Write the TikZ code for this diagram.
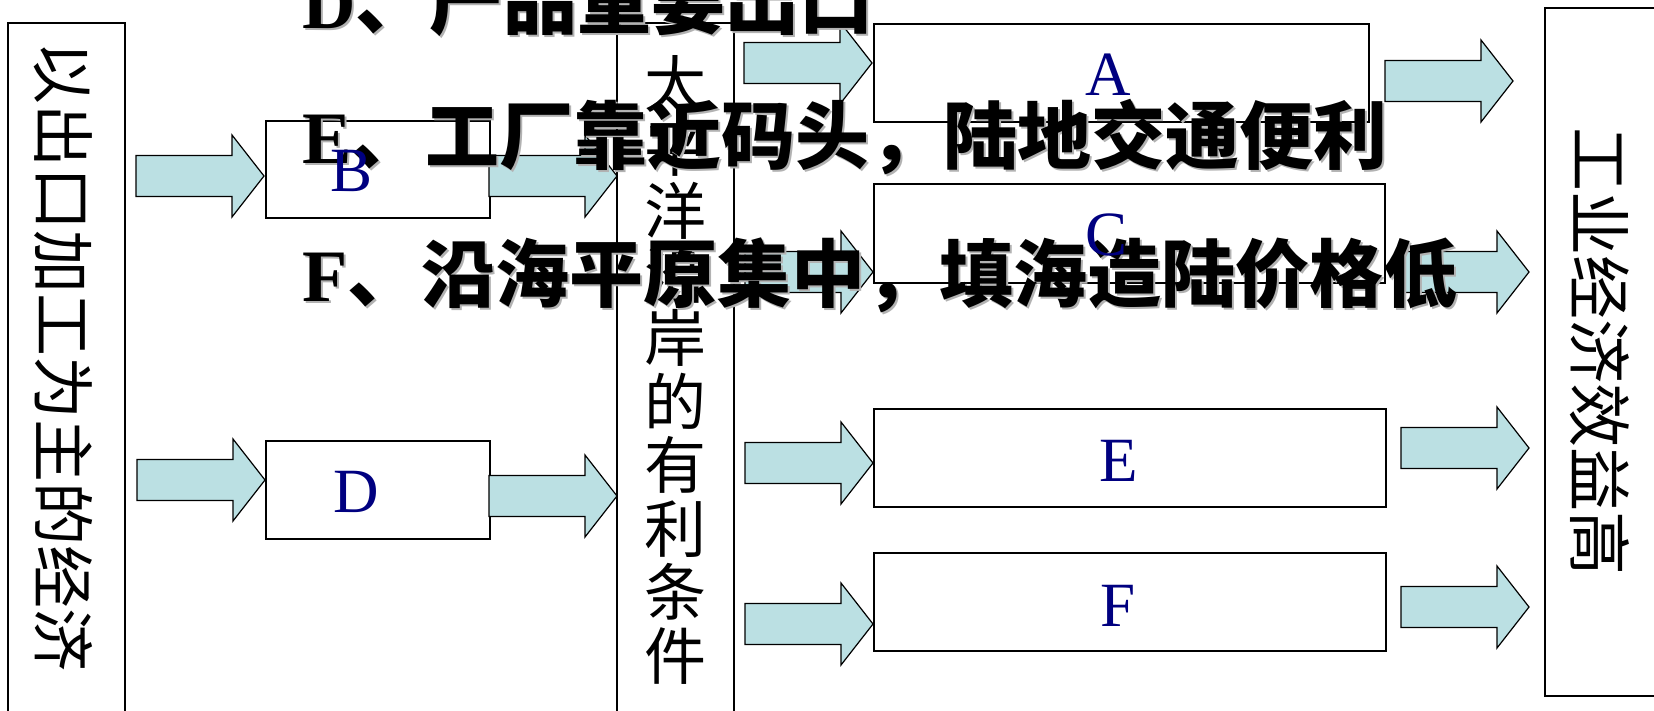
\documentclass[tikz,border=0pt]{standalone}
\usepackage{fontspec}
\setmainfont{Liberation Serif}
\newfontfamily\cjk{Noto Sans CJK SC}
\definecolor{acyan}{RGB}{187,224,227}
\definecolor{navyc}{RGB}{0,0,128}
\begin{document}
\begin{tikzpicture}[x=1pt,y=-1pt,
  frame/.style={draw=black, line width=1.5pt},
  boxn/.style={draw=black, fill=white, line width=1.5pt, inner sep=0pt, anchor=north west},
  blockarrow/.pic={\draw[line width=1.2pt, fill=acyan, line join=miter]
      (-128,-20.5) -- (-32,-20.5) -- (-32,-41) -- (0,0) -- (-32,41) -- (-32,20.5) -- (-128,20.5) -- cycle;
      \coordinate (-tip) at (0,0); \coordinate (-tail) at (-128,0);},
  lbl/.style={text=navyc, font=\fontsize{63}{63}\selectfont, inner sep=0pt, anchor=base},
  over/.style={font=\fontsize{74}{74}\selectfont\bfseries, inner sep=0pt, anchor=base west},
  shadow/.style={over, text=gray!60},
  vtext/.style={font=\cjk\fontsize{63}{63}\selectfont, inner sep=0pt, rotate=-90}
]
\useasboundingbox (0,0) rectangle (1654,710);
\fill[white] (0,0) rectangle (1654,710);
% column frames
\draw[frame] (8,712) -- (8,23) -- (125,23) -- (125,712);
\draw[frame] (617,712) -- (617,23) -- (734,23) -- (734,712);
\draw[frame] (1658,8) -- (1545,8) -- (1545,696) -- (1658,696);
% column texts
\node[vtext] (lt) at (63,356) {以出口加工为主的经济};
\node[font=\cjk\fontsize{62}{63.5}\selectfont, align=center, inner sep=0pt] (mt) at (675.5,370)
  {太\\平\\洋\\沿\\岸\\的\\有\\利\\条\\件};
\node[vtext, font=\cjk\fontsize{64}{64}\selectfont] (rt) at (1600,351) {工业经济效益高};
% boxes
\node[boxn, minimum width=224pt, minimum height=97pt] (B) at (265,120) {};
\node[boxn, minimum width=224pt, minimum height=98pt] (D) at (265,440) {};
\node[boxn, minimum width=495pt, minimum height=98pt] (A) at (873,23) {};
\node[boxn, minimum width=511pt, minimum height=99pt] (C) at (873,183) {};
\node[boxn, minimum width=512pt, minimum height=98pt] (E) at (873,408) {};
\node[boxn, minimum width=512pt, minimum height=98pt] (F) at (873,552) {};
% block arrows (placed by their tips)
\pic (a1) at (264,176) {blockarrow};
\pic (a2) at (617,176) {blockarrow};
\pic (a3) at (265,480) {blockarrow};
\pic (a4) at (617,496) {blockarrow};
\pic (a5) at (872,63) {blockarrow};
\pic (a6) at (1513,81) {blockarrow};
\pic (a7) at (873,272) {blockarrow};
\pic (a8) at (1529,272) {blockarrow};
\pic (a9) at (873,463) {blockarrow};
\pic (a10) at (1529,448) {blockarrow};
\pic (a11) at (873,624) {blockarrow};
\pic (a12) at (1529,607) {blockarrow};
% overlay text with shadow
\node[shadow] at (304,30) {D{\cjk 、产品重要出口}};
\node[over] (tD) at (302,28) {D{\cjk 、产品重要出口}};
\node[shadow] at (304,165) {E{\cjk 、工厂靠近码头，陆地交通便利}};
\node[over] (tE) at (302,163) {E{\cjk 、工厂靠近码头，陆地交通便利}};
\node[shadow] at (304,303) {F{\cjk 、沿海平原集中，填海造陆价格低}};
\node[over] (tF) at (302,301) {F{\cjk 、沿海平原集中，填海造陆价格低}};
% box labels
\node[lbl] (lA) at (1108,95) {A};
\node[lbl] (lB) at (352,191) {B};
\node[lbl] (lC) at (1106,255) {C};
\node[lbl] (lD) at (356,512) {D};
\node[lbl] (lE) at (1119,481) {E};
\node[lbl] (lF) at (1118,626) {F};
\end{tikzpicture}
\end{document}
